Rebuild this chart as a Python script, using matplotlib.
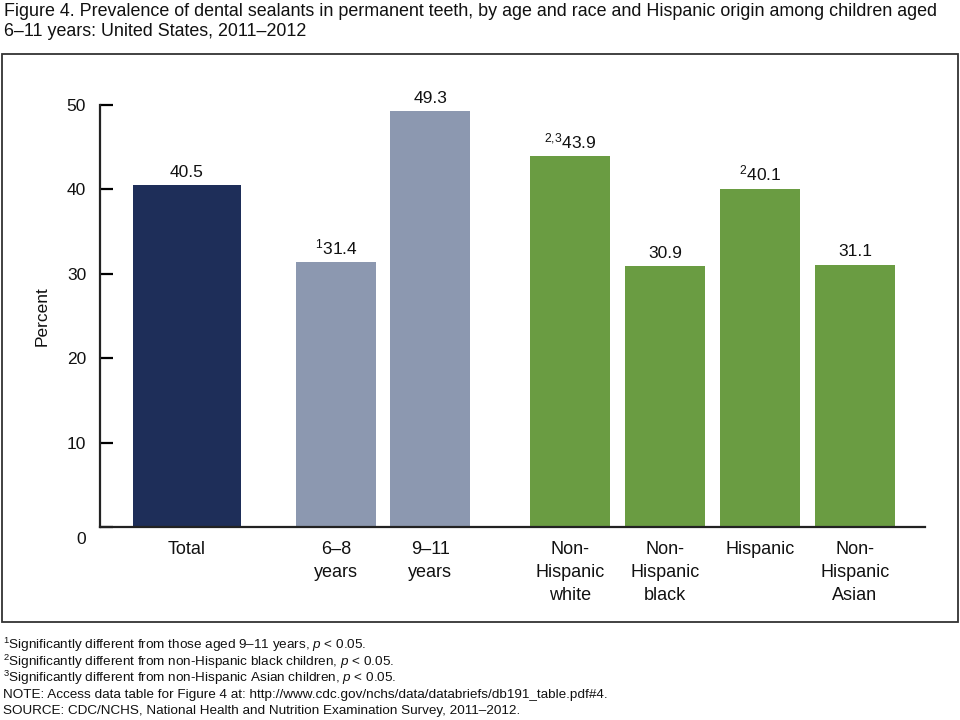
import matplotlib
matplotlib.use("Agg")
import matplotlib.pyplot as plt
import matplotlib.transforms as mtransforms
from matplotlib.patches import Rectangle

plt.rcParams["font.family"] = ["Liberation Sans", "DejaVu Sans"]
plt.rcParams["mathtext.fontset"] = "custom"
plt.rcParams["mathtext.rm"] = "Liberation Sans"
plt.rcParams["mathtext.it"] = "Liberation Sans:italic"

# data
categories = ["Total", "6\u20138\nyears", "9\u201311\nyears", "Non-\nHispanic\nwhite",
              "Non-\nHispanic\nblack", "Hispanic", "Non-\nHispanic\nAsian"]
values = [40.5, 31.4, 49.3, 43.9, 30.9, 40.1, 31.1]
notes = ["", "1", "", "2{,}3", "", "2", ""]
yticks = [0, 10, 20, 30, 40, 50]

navy = "#1e2e59"
slate = "#8c98b0"
green = "#6a9c42"
colors = [navy, slate, slate, green, green, green, green]

# layout (positions in bar-spacing units)
xpos = [0, 1.57, 2.56, 4.03, 5.03, 6.03, 7.03]
widths = [1.137, 0.84, 0.84, 0.84, 0.84, 0.84, 0.84]

fig = plt.figure(figsize=(9.6, 7.2), dpi=100)
ax = fig.add_axes([100 / 960, 1 - 527 / 720, 825 / 960, 422 / 720])

ax.bar(xpos, values, width=widths, color=colors, edgecolor="none")
for x, v, n in zip(xpos, values, notes):
    label = f"$^{{{n}}}${v}" if n else f"{v}"
    ax.text(x, v + 0.6, label, ha="center", va="bottom", fontsize=12.5, color="#111111")

ax.set_xlim(-0.916, 825 / 95 - 0.916)
ax.set_ylim(0, 50)
ax.set_yticks(yticks)
ax.set_yticklabels([str(t) for t in yticks])
ax.set_xticks(xpos)
ax.set_xticklabels(categories, fontsize=13, linespacing=1.45, color="#111111")
ax.tick_params(axis="x", length=0, pad=10)
ax.tick_params(axis="y", direction="in", length=9.5, width=1.6, pad=10,
               labelsize=12.5, labelcolor="#111111")

# "0" label sits lower than the baseline in the reference
zero_label = ax.get_yticklabels()[0]
zero_label.set_transform(zero_label.get_transform() +
                         mtransforms.ScaledTranslation(0, -11 / 100, fig.dpi_scale_trans))

for side in ["top", "right"]:
    ax.spines[side].set_visible(False)
for side in ["left", "bottom"]:
    ax.spines[side].set_linewidth(1.6)
    ax.spines[side].set_color("#222222")

ax.set_ylabel("Percent", fontsize=12.5, color="#111111")
ax.yaxis.set_label_coords(-50 / 825, 0.5)

# outer frame
fig.patches.append(Rectangle((2 / 960, 1 - 622 / 720), 956 / 960, 568 / 720,
                             transform=fig.transFigure, fill=False,
                             edgecolor="#333333", linewidth=1.3))

fig.text(4 / 960, 1 - 3 / 720,
         "Figure 4. Prevalence of dental sealants in permanent teeth, by age and race and Hispanic origin among children aged\n"
         "6\u201311 years: United States, 2011\u20132012",
         ha="left", va="top", fontsize=12.9, linespacing=1.2, color="#111111")

footnotes = [
    "$^{1}$Significantly different from those aged 9\u201311 years, $p$ < 0.05.",
    "$^{2}$Significantly different from non-Hispanic black children, $p$ < 0.05.",
    "$^{3}$Significantly different from non-Hispanic Asian children, $p$ < 0.05.",
    "NOTE: Access data table for Figure 4 at: http://www.cdc.gov/nchs/data/databriefs/db191_table.pdf#4.",
    "SOURCE: CDC/NCHS, National Health and Nutrition Examination Survey, 2011\u20132012.",
]
for i, line in enumerate(footnotes):
    fig.text(3 / 960, 1 - (645 + i * 16.6) / 720, line, ha="left", va="center",
             fontsize=9.7, color="#111111")

fig.savefig("out.png", dpi=100)
